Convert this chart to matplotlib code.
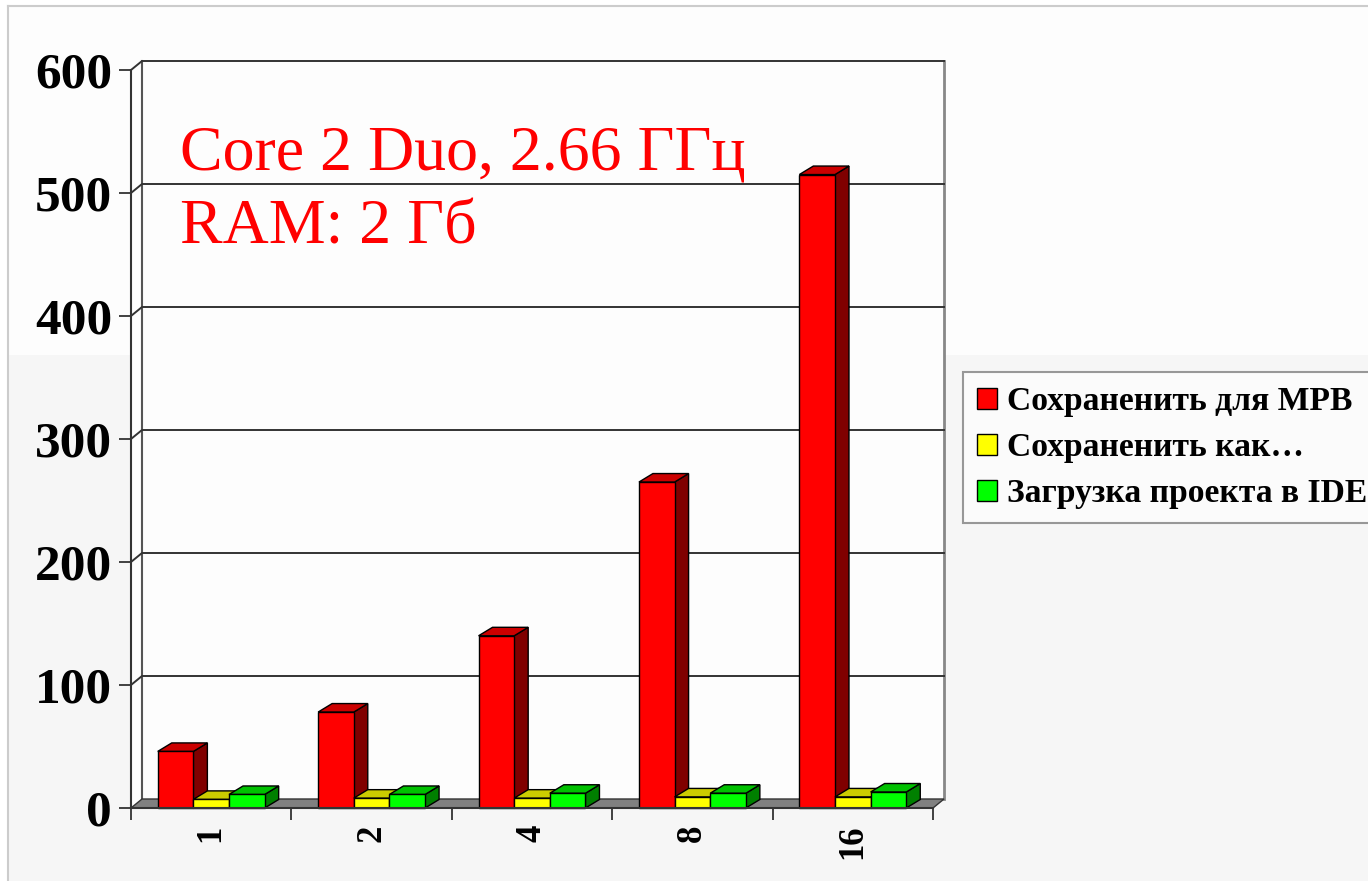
import matplotlib
matplotlib.use('Agg')
import matplotlib.pyplot as plt
from matplotlib.patches import Polygon, Rectangle, Patch
from matplotlib.lines import Line2D

# ---------------- data ----------------
categories = ['1', '2', '4', '8', '16']
series_names = ['Сохраненить для МРВ', 'Сохраненить как…', 'Загрузка проекта в IDE']
mpb_values = [46, 78, 140, 265, 515]
save_as_values = [7, 8, 8, 9, 9]
load_ide_values = [11, 11, 12, 12, 13]
y_ticks = [0, 100, 200, 300, 400, 500, 600]
annotation_lines = ['Core 2 Duo, 2.66 ГГц', 'RAM: 2 Гб']

# ---------------- style ----------------
front_colors = ['#FF0000', '#FFFF00', '#00FF00']
top_colors = ['#CC0000', '#CCCC00', '#00C000']
side_colors = ['#800000', '#909000', '#008000']

plt.rcParams['font.family'] = ['Liberation Serif', 'DejaVu Serif']

W, H = 1368, 881
fig = plt.figure(figsize=(W / 100, H / 100), dpi=100)
fig.patch.set_facecolor('white')

# slide-like background
fig.patches.append(Rectangle((8 / W, 1 - 355 / H), 1 - 8 / W, (355 - 6) / H,
                             transform=fig.transFigure, facecolor='#fdfdfd',
                             edgecolor='none', zorder=-5))
fig.patches.append(Rectangle((8 / W, 0), 1 - 8 / W, 1 - 355 / H,
                             transform=fig.transFigure, facecolor='#f6f6f6',
                             edgecolor='none', zorder=-5))
fig.lines.append(Line2D([8 / W, 1], [1 - 6 / H, 1 - 6 / H], transform=fig.transFigure,
                        color='#cccccc', lw=1.5, zorder=-4))
fig.lines.append(Line2D([8 / W, 8 / W], [0, 1 - 6 / H], transform=fig.transFigure,
                        color='#cccccc', lw=1.5, zorder=-4))

ax_left, ax_right, ax_top, ax_bottom = 131, 933, 70, 808
ax = fig.add_axes([ax_left / W, 1 - ax_bottom / H, (ax_right - ax_left) / W,
                   (ax_bottom - ax_top) / H])
ax.set_zorder(1)
ncat = len(categories)
ymax = y_ticks[-1]
ax.set_xlim(0, ncat)
ax.set_ylim(0, ymax)
ax.patch.set_visible(False)

sx = (ax_right - ax_left) / ncat
sy = (ax_bottom - ax_top) / ymax
fdx, fdy = 11 / sx, 9 / sy        # wall depth
bdx, bdy = 14 / sx, 8.5 / sy      # bar depth

# walls
ax.add_patch(Polygon([(fdx, fdy), (ncat + fdx, fdy), (ncat + fdx, ymax + fdy), (fdx, ymax + fdy)],
                     closed=True, facecolor='#fdfdfd', edgecolor='none', zorder=0.5, clip_on=False))
ax.add_patch(Polygon([(0, 0), (fdx, fdy), (fdx, ymax + fdy), (0, ymax)],
                     closed=True, facecolor='#fdfdfd', edgecolor='none', zorder=0.5, clip_on=False))
ax.add_line(Line2D([fdx, fdx], [fdy, ymax + fdy], color='#555555', lw=1.5, zorder=1, clip_on=False))
ax.add_line(Line2D([ncat + fdx, ncat + fdx], [fdy, ymax + fdy], color='#888888', lw=2, zorder=1, clip_on=False))
for yv in y_ticks[1:]:
    ax.add_line(Line2D([0, fdx, ncat + fdx], [yv, yv + fdy, yv + fdy], color='#333333',
                       lw=1.4, zorder=1.5, clip_on=False))

# floor
ax.add_patch(Polygon([(0, 0), (ncat, 0), (ncat + fdx, fdy), (fdx, fdy)], closed=True,
                     facecolor='#808080', edgecolor='#333333', lw=1, zorder=2, clip_on=False))

# bars
all_series = [mpb_values, save_as_values, load_ide_values]
nser = len(all_series)
gap = 1.5
bw = 1 / (nser + gap)
z = 3
for i in range(ncat):
    for j, vals in enumerate(all_series):
        v = vals[i]
        x0 = i + gap * bw / 2 + j * bw
        x1 = x0 + bw
        ax.add_patch(Polygon([(x1, 0), (x1 + bdx, bdy), (x1 + bdx, v + bdy), (x1, v)], closed=True,
                             facecolor=side_colors[j], edgecolor='black', lw=1, zorder=z, clip_on=False))
        ax.add_patch(Polygon([(x0, v), (x1, v), (x1 + bdx, v + bdy), (x0 + bdx, v + bdy)], closed=True,
                             facecolor=top_colors[j], edgecolor='black', lw=1, zorder=z, clip_on=False))
        ax.add_patch(Polygon([(x0, 0), (x1, 0), (x1, v), (x0, v)], closed=True,
                             facecolor=front_colors[j], edgecolor='black', lw=1, zorder=z + 0.1, clip_on=False))
        z += 0.2

# spines & ticks
for s in ['top', 'right']:
    ax.spines[s].set_visible(False)
for s in ['left', 'bottom']:
    ax.spines[s].set_color('#333333')
    ax.spines[s].set_linewidth(1.5)
    ax.spines[s].set_zorder(20)

ax.set_yticks(y_ticks)
ax.set_yticklabels([str(t) for t in y_ticks], fontsize=37, fontweight='bold')
ax.tick_params(axis='y', length=8.6, width=1.3, color='#333333', pad=5)

ax.set_xticks(range(ncat + 1))
ax.set_xticklabels([''] * (ncat + 1))
ax.tick_params(axis='x', which='major', length=8.6, width=1.3, color='#333333')
ax.set_xticks([i + 0.5 for i in range(ncat)], minor=True)
ax.set_xticklabels(categories, minor=True, rotation=90, fontsize=25, fontweight='bold')
ax.tick_params(axis='x', which='minor', length=0, pad=12)

# annotation
fig.text(180 / W, 1 - 169 / H, annotation_lines[0], color='red', fontsize=46, va='baseline', zorder=5)
fig.text(180 / W, 1 - 244 / H, annotation_lines[1], color='red', fontsize=46, va='baseline', zorder=5)

# legend
handles = [Patch(facecolor=c, edgecolor='black', lw=1) for c in front_colors]
leg = fig.legend(handles, series_names, loc='upper left', bbox_to_anchor=(963 / W, 1 - 372 / H),
                 prop={'size': 24.2, 'weight': 'bold'}, frameon=True, fancybox=False,
                 handlelength=0.6, handleheight=0.6, handletextpad=0.3, labelspacing=0.45,
                 borderpad=0.42, borderaxespad=0)
leg.get_frame().set_edgecolor('#808080')
leg.get_frame().set_linewidth(1.5)
leg.get_frame().set_facecolor('#fdfdfd')
leg.set_zorder(5)

fig.savefig('out.png', dpi=100)
